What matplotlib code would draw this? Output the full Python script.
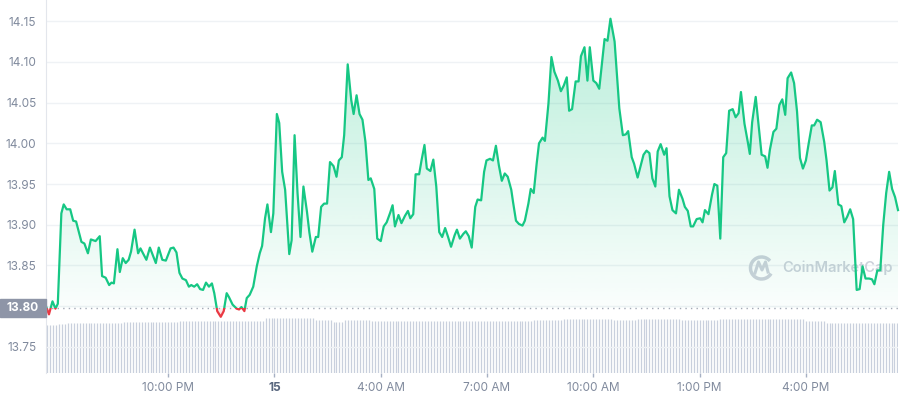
import matplotlib.pyplot as plt
import numpy as np
from matplotlib.colors import to_rgb
from matplotlib.patches import Rectangle, Arc
from matplotlib.path import Path
from matplotlib.transforms import blended_transform_factory, IdentityTransform

plt.rcParams['font.family'] = ['Inter', 'DejaVu Sans']

# minutes since 18:00 on the 14th, price in USD
minutes = [33, 38, 44, 49, 53, 59, 63, 68, 74, 79, 84, 93, 98, 104, 109, 117, 124, 128, 134, 140,
           144, 148, 154, 158, 163, 168, 173, 177, 183, 189, 193, 203, 209, 219, 224, 230, 236, 244, 249, 254,
           259, 264, 270, 275, 279, 284, 289, 294, 299, 304, 309, 314, 318, 323, 329, 334, 339, 343, 349, 356,
           360, 364, 369, 373, 378, 384, 390, 395, 399, 404, 408, 414, 418, 424, 428, 433, 438, 445, 449, 454,
           459, 464, 469, 475, 479, 484, 490, 494, 499, 504, 509, 514, 520, 525, 529, 534, 538, 544, 550, 554,
           559, 564, 569, 574, 579, 583, 589, 594, 600, 605, 610, 616, 620, 624, 630, 635, 641, 646, 650, 655,
           659, 665, 669, 674, 678, 684, 689, 694, 699, 704, 709, 714, 719, 725, 729, 734, 740, 744, 749, 754,
           760, 764, 770, 775, 779, 785, 790, 795, 800, 805, 810, 815, 821, 824, 829, 834, 840, 844, 850, 854,
           859, 864, 868, 874, 878, 884, 889, 894, 900, 905, 910, 915, 919, 924, 930, 935, 939, 945, 950, 954,
           960, 965, 970, 974, 979, 984, 989, 996, 1004, 1010, 1015, 1019, 1025, 1029, 1035, 1040, 1045, 1050, 1055, 1060,
           1065, 1069, 1074, 1080, 1084, 1089, 1094, 1100, 1105, 1111, 1115, 1120, 1125, 1129, 1135, 1141, 1145, 1149, 1155, 1161,
           1165, 1170, 1175, 1180, 1185, 1190, 1196, 1201, 1206, 1210, 1216, 1222, 1225, 1229, 1235, 1240, 1245, 1251, 1255, 1259,
           1265, 1270, 1275, 1280, 1285, 1289, 1295, 1300, 1305, 1310, 1315, 1320, 1325, 1330, 1334, 1339, 1345, 1351, 1355, 1360,
           1365, 1369, 1375, 1380, 1385, 1390, 1395, 1400, 1406, 1411, 1416, 1421, 1427, 1432, 1436, 1441, 1446, 1451, 1456, 1461,
           1466, 1471, 1476]
price = [13.800, 13.790, 13.806, 13.797, 13.803, 13.914, 13.925, 13.919, 13.919, 13.905, 13.904, 13.879, 13.877, 13.865, 13.882, 13.880, 13.886, 13.837, 13.835, 13.826,
         13.829, 13.828, 13.870, 13.842, 13.859, 13.853, 13.857, 13.867, 13.894, 13.865, 13.871, 13.857, 13.872, 13.853, 13.872, 13.857, 13.856, 13.871, 13.872, 13.866,
         13.841, 13.834, 13.832, 13.824, 13.826, 13.824, 13.827, 13.821, 13.820, 13.829, 13.824, 13.828, 13.816, 13.794, 13.787, 13.794, 13.816, 13.811, 13.802, 13.797,
         13.796, 13.799, 13.794, 13.810, 13.814, 13.824, 13.849, 13.865, 13.874, 13.908, 13.925, 13.891, 13.914, 14.036, 14.025, 13.965, 13.943, 13.864, 13.881, 14.010,
         13.939, 13.885, 13.947, 13.916, 13.891, 13.867, 13.885, 13.885, 13.922, 13.926, 13.926, 13.977, 13.972, 13.959, 13.979, 13.983, 14.010, 14.097, 14.053, 14.036,
         14.059, 14.036, 14.029, 14.002, 13.955, 13.957, 13.944, 13.883, 13.880, 13.898, 13.903, 13.915, 13.924, 13.898, 13.912, 13.902, 13.911, 13.917, 13.908, 13.913,
         13.962, 13.962, 13.979, 13.998, 13.969, 13.966, 13.980, 13.947, 13.891, 13.885, 13.896, 13.885, 13.873, 13.887, 13.894, 13.883, 13.889, 13.892, 13.886, 13.872,
         13.922, 13.931, 13.930, 13.965, 13.979, 13.981, 13.979, 13.997, 13.973, 13.954, 13.963, 13.959, 13.943, 13.928, 13.905, 13.901, 13.899, 13.905, 13.926, 13.944,
         13.939, 13.975, 14.000, 14.007, 14.003, 14.049, 14.106, 14.088, 14.077, 14.064, 14.071, 14.081, 14.040, 14.042, 14.076, 14.076, 14.107, 14.118, 14.077, 14.118,
         14.077, 14.074, 14.067, 14.094, 14.128, 14.126, 14.153, 14.125, 14.043, 14.010, 14.011, 14.015, 13.983, 13.975, 13.958, 13.972, 13.986, 13.991, 13.988, 13.957,
         13.947, 13.990, 13.999, 13.986, 13.994, 13.935, 13.918, 13.914, 13.943, 13.932, 13.922, 13.917, 13.898, 13.898, 13.907, 13.908, 13.903, 13.918, 13.913, 13.937,
         13.950, 13.948, 13.883, 13.983, 13.988, 14.040, 14.042, 14.032, 14.037, 14.063, 14.024, 14.000, 13.987, 14.026, 14.057, 14.022, 13.986, 13.984, 13.970, 13.992,
         14.014, 14.018, 14.047, 14.054, 14.035, 14.080, 14.087, 14.074, 14.039, 13.982, 13.969, 13.979, 14.001, 14.022, 14.022, 14.029, 14.026, 14.002, 13.979, 13.942,
         13.946, 13.966, 13.925, 13.923, 13.903, 13.910, 13.919, 13.907, 13.820, 13.821, 13.849, 13.834, 13.834, 13.833, 13.827, 13.844, 13.844, 13.900, 13.939, 13.965,
         13.944, 13.934, 13.918]
base_price = 13.798

# volume bars (5 min each), as runs of equal height
vol_levels = [288, 294, 300, 306, 312, 330, 318, 306, 318, 312, 312, 318, 324, 318, 324, 318, 324, 312, 300]
vol_counts = [4, 3, 19, 19, 29, 17, 6, 4, 9, 18, 37, 10, 17, 8, 15, 13, 29, 7, 25]

tick_minutes = [240, 420, 600, 780, 960, 1140, 1320]
tick_labels = ['10:00 PM', '15', '4:00 AM', '7:00 AM', '10:00 AM', '1:00 PM', '4:00 PM']
price_ticks = [13.75, 13.80, 13.85, 13.90, 13.95, 14.00, 14.05, 14.10, 14.15]

green = '#16c784'
red = '#ea3943'
grey = '#808a9d'

t = np.array(minutes)
p = np.array(price)
volume = np.repeat(vol_levels, vol_counts)
vol_t = 35 + 5 * np.arange(len(volume))

fig = plt.figure(figsize=(9, 4), dpi=100)
ax = fig.add_axes([46 / 900, 27 / 400, 852 / 900, 373 / 400])
ax_vol = ax.twinx()
ax.set_zorder(2)
ax.patch.set_visible(False)

# volume
ax_vol.vlines(vol_t, 0, volume, color='#c9d0dd', lw=0.9)
ax_vol.set_ylim(0, 2238)
ax_vol.set_yticks([])
for s in ax_vol.spines.values():
    s.set_visible(False)

# gradient fill above / below the opening price
fills = [(p >= base_price, green, base_price, p.max(), 0.02, 0.30),
         (p <= base_price, red, p.min(), base_price, 0.25, 0.05)]
for mask, col, lo, hi, a0, a1 in fills:
    poly = ax.fill_between(t, p, base_price, where=mask, interpolate=True)
    clip = Path.make_compound_path(*poly.get_paths())
    poly.remove()
    grad = np.zeros((256, 1, 4))
    grad[..., :3] = to_rgb(col)
    grad[..., 3] = np.linspace(a0, a1, 256)[:, None]
    img = ax.imshow(grad, extent=[t[0], t[-1], lo, hi], origin='lower', aspect='auto', zorder=1)
    img.set_clip_path(clip, ax.transData)

# price line, green above and red below the opening price
for col, y0, h in [(green, base_price, 1), (red, base_price - 1, 1)]:
    ln, = ax.plot(t, p, color=col, lw=1.6, zorder=3, solid_joinstyle='round')
    rect = Rectangle((0, y0), 2000, h, transform=ax.transData)
    ln.set_clip_path(rect)

ax.axhline(base_price, color='#a3a9b6', lw=1, ls=(0, (1, 3)), zorder=2)

ax.set_xlim(33, 1476)
ax.set_ylim(13.718, 14.176)

ax.set_yticks(price_ticks, ['' if v == 13.80 else f'{v:.2f}' for v in price_ticks])
ax.set_xticks(tick_minutes, tick_labels)
ax.tick_params(axis='y', length=0, pad=7, labelsize=8.5, labelcolor=grey)
ax.tick_params(axis='x', length=3, width=1, color='#a6b0c3', pad=3.5, labelsize=8.5, labelcolor=grey)
day_label = ax.get_xticklabels()[1]
day_label.set_fontweight('bold')
day_label.set_color('#58667e')
ax.grid(axis='y', color='#eff2f5', lw=1)
ax.set_axisbelow(True)
for side in ['top', 'right', 'bottom']:
    ax.spines[side].set_visible(False)
ax.spines['left'].set_color('#e3e6ec')

# current-price label box
trans = blended_transform_factory(ax.transAxes, ax.transData)
ax.add_patch(Rectangle((-46 / 852, base_price - 9 / 815), 46 / 852, 18 / 815,
                       transform=trans, color='#8e95a7', clip_on=False, zorder=5))
ax.text(-23 / 852, base_price, '13.80', transform=trans, ha='center', va='center',
        color='white', fontsize=8.5, fontweight='bold', zorder=6)

# watermark
wm = '#cdd1db'
ax.add_patch(Arc((761.5, 132), 22, 22, theta1=40, theta2=330, transform=IdentityTransform(),
                 color=wm, lw=2.5, clip_on=False, zorder=0.9))
ax.plot([755, 758.5, 762, 765.5, 768], [127, 138, 130, 138, 128], color=wm, lw=2.2,
        transform=IdentityTransform(), clip_on=False, zorder=0.9)
ax.text(782 / 900, 132 / 400, 'CoinMarketCap', transform=fig.transFigure, ha='left', va='center',
        color=wm, fontsize=10.5, fontweight='semibold', zorder=0.9)

fig.savefig('out.png', dpi=100, facecolor='white')
